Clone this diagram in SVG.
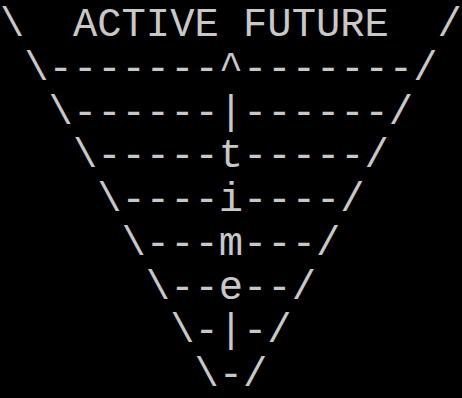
<svg xmlns="http://www.w3.org/2000/svg" width="462" height="398" viewBox="0 0 462 398">
<style>
text{font-family:"Liberation Mono","Courier New",monospace;font-size:40.5px;fill:#c8c8c8;white-space:pre}
</style>
<rect width="462" height="398" fill="#000"/>
<g id="art" xml:space="preserve">
<text x="0" y="36">\  ACTIVE FUTURE  /</text>
<text x="0" y="79.75"> \-------^-------/</text>
<text x="0" y="123.5">  \------|------/</text>
<text x="0" y="167.25">   \-----t-----/</text>
<text x="0" y="211">    \----i----/</text>
<text x="0" y="254.75">     \---m---/</text>
<text x="0" y="298.5">      \--e--/</text>
<text x="0" y="342.25">       \-|-/</text>
<text x="0" y="386">        \-/</text>
</g>
</svg>
